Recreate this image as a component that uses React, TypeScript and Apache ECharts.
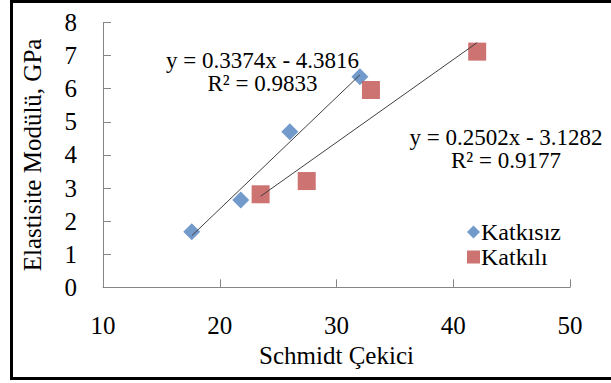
import React, { useEffect, useRef } from "react";
import * as echarts from "echarts";

const katkisizX = [17.6, 21.8, 26.0, 32.0];
const katkisizY = [1.68, 2.64, 4.7, 6.36];
const katkiliX = [23.5, 27.45, 32.95, 42.05];
const katkiliY = [2.81, 3.21, 5.96, 7.12];
const seriesNames = ["Katkısız", "Katkılı"];
// trendline coefficients as printed on the chart
const slopes = [0.3374, 0.2502];
const intercepts = [-4.3816, -3.1282];
const equationTexts = ["y = 0.3374x - 4.3816", "y = 0.2502x - 3.1282"];
const r2Texts = ["R² = 0.9833", "R² = 0.9177"];

const FONT = "Liberation Serif";

export default function App() {
  const ref = useRef<HTMLDivElement>(null);
  useEffect(() => {
    if (!ref.current) return;
    const chart = echarts.init(ref.current, undefined, { renderer: "svg" });
    const trend = (xs: number[], k: number) => {
      const x0 = Math.min(...xs);
      const x1 = Math.max(...xs);
      return [
        [x0, slopes[k] * x0 + intercepts[k]],
        [x1, slopes[k] * x1 + intercepts[k]],
      ];
    };
    const eqStyle = (i: number) => ({
      text: equationTexts[i] + "\n" + r2Texts[i],
      fontFamily: FONT,
      fontSize: 23,
      lineHeight: 23,
      fill: "#000",
      align: "center",
      verticalAlign: "middle",
    });
    chart.setOption({
      animation: false,
      textStyle: { fontFamily: FONT },
      grid: { left: 103, right: 41, top: 22.5, bottom: 95.7 },
      xAxis: {
        type: "value",
        min: 10,
        max: 50,
        interval: 10,
        name: "Schmidt Çekici",
        nameLocation: "middle",
        nameGap: 56,
        nameTextStyle: { fontFamily: FONT, fontSize: 25, color: "#000" },
        axisLine: { show: true, lineStyle: { color: "#868686", width: 1 } },
        axisTick: { show: true, inside: true, length: 8, lineStyle: { color: "#868686" } },
        axisLabel: { margin: 26, fontFamily: FONT, fontSize: 25, color: "#000" },
        splitLine: { show: false },
      },
      yAxis: {
        type: "value",
        min: 0,
        max: 8,
        interval: 1,
        name: "Elastisite Modülü, GPa",
        nameLocation: "middle",
        nameGap: 58,
        nameTextStyle: { fontFamily: FONT, fontSize: 25, color: "#000" },
        axisLine: { show: true, lineStyle: { color: "#868686", width: 1 } },
        axisTick: { show: true, inside: true, length: 8, lineStyle: { color: "#868686" } },
        axisLabel: { margin: 26, fontFamily: FONT, fontSize: 25, color: "#000" },
        splitLine: { show: false },
      },
      legend: {
        data: seriesNames,
        orient: "vertical",
        left: 462,
        top: 215,
        itemWidth: 13,
        itemHeight: 13,
        itemGap: 1,
        textStyle: { fontFamily: FONT, fontSize: 24, color: "#000", padding: [0, 0, 0, -4] },
      },
      series: [
        {
          name: seriesNames[0],
          type: "scatter",
          symbol: "diamond",
          symbolSize: 17,
          itemStyle: { color: "#4F81BD" },
          data: katkisizX.map((x, i) => [x, katkisizY[i]]),
          z: 2,
        },
        {
          name: seriesNames[1],
          type: "scatter",
          symbol: "rect",
          symbolSize: 18,
          itemStyle: { color: "#C0504D" },
          data: katkiliX.map((x, i) => [x, katkiliY[i]]),
          z: 2,
        },
        {
          name: "trend1",
          type: "line",
          data: trend(katkisizX, 0),
          showSymbol: false,
          silent: true,
          lineStyle: { color: "#404040", width: 1 },
          z: 3,
        },
        {
          name: "trend2",
          type: "line",
          data: trend(katkiliX, 1),
          showSymbol: false,
          silent: true,
          lineStyle: { color: "#404040", width: 1 },
          z: 3,
        },
      ],
      graphic: [
        {
          type: "rect",
          shape: { x: 11.5, y: 1.5, width: 640, height: 377 },
          style: { fill: "none", stroke: "#000", lineWidth: 3 },
          silent: true,
        },
        { type: "text", x: 262.5, y: 71.5, style: eqStyle(0) },
        { type: "text", x: 506, y: 149, style: eqStyle(1) },
      ],
    });
    return () => chart.dispose();
  }, []);
  return (
    <div
      ref={ref}
      style={{ position: "fixed", left: 0, top: 0, width: 611, height: 383, background: "#fff" }}
    />
  );
}
